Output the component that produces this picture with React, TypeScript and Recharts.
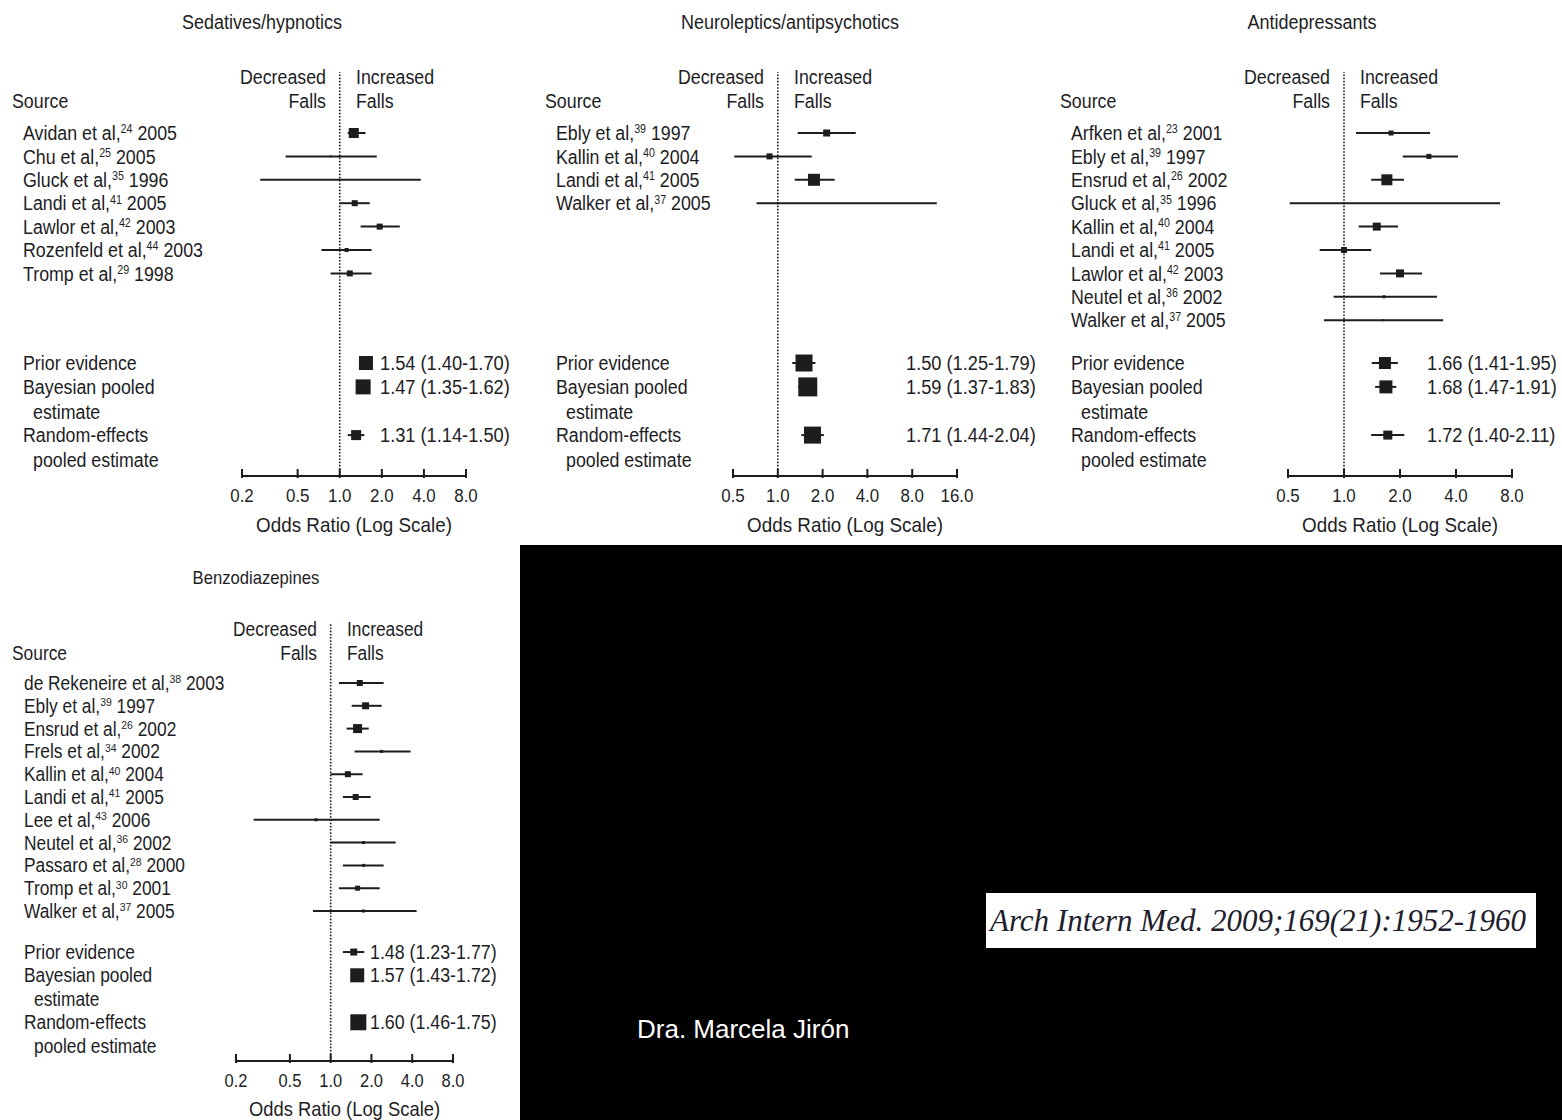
import React from 'react'
import { ScatterChart, Scatter, XAxis, YAxis, ErrorBar, ReferenceLine } from 'recharts'

const SANS = "'Liberation Sans', Arial, sans-serif"
const INK = '#1d1d1f'
// the figure set uses a condensed face; Liberation Sans is squeezed horizontally to match
const SX_WORD = 0.89

// Sedatives/hypnotics
const sedAuthors = ['Avidan et al,', 'Chu et al,', 'Gluck et al,', 'Landi et al,', 'Lawlor et al,', 'Rozenfeld et al,', 'Tromp et al,']
const sedRefs = ['24', '25', '35', '41', '42', '44', '29']
const sedYears = ['2005', '2005', '1996', '2005', '2003', '2003', '1998']
const sedOR = [1.26, 0.86, 1.0, 1.28, 1.93, 1.12, 1.18]
const sedLow = [1.14, 0.41, 0.27, 1.0, 1.41, 0.74, 0.86]
const sedHigh = [1.53, 1.84, 3.8, 1.64, 2.69, 1.69, 1.69]
const sedWeight = [10, 2, 1, 6, 6, 4, 6]
const sedPooledOR = [1.54, 1.47, 1.31]
const sedPooledLow = [1.4, 1.35, 1.14]
const sedPooledHigh = [1.7, 1.62, 1.5]
const sedPooledWeight = [14, 15, 10]
const sedTicks = [0.2, 0.5, 1, 2, 4, 8]

// Neuroleptics/antipsychotics
const neuAuthors = ['Ebly et al,', 'Kallin et al,', 'Landi et al,', 'Walker et al,']
const neuRefs = ['39', '40', '41', '37']
const neuYears = ['1997', '2004', '2005', '2005']
const neuOR = [2.13, 0.88, 1.75, 1.0]
const neuLow = [1.36, 0.51, 1.3, 0.72]
const neuHigh = [3.34, 1.69, 2.41, 11.7]
const neuWeight = [7, 6, 12, 2]
const neuPooledOR = [1.5, 1.59, 1.71]
const neuPooledLow = [1.25, 1.37, 1.44]
const neuPooledHigh = [1.79, 1.83, 2.04]
const neuPooledWeight = [17, 19, 17]
const neuTicks = [0.5, 1, 2, 4, 8, 16]

// Antidepressants
const antAuthors = ['Arfken et al,', 'Ebly et al,', 'Ensrud et al,', 'Gluck et al,', 'Kallin et al,', 'Landi et al,', 'Lawlor et al,', 'Neutel et al,', 'Walker et al,']
const antRefs = ['23', '39', '26', '35', '40', '41', '42', '36', '37']
const antYears = ['2001', '1997', '2002', '1996', '2004', '2005', '2003', '2002', '2005']
const antOR = [1.79, 2.86, 1.7, 1.0, 1.5, 1.0, 2.0, 1.64, 1.62]
const antLow = [1.16, 2.07, 1.4, 0.51, 1.2, 0.74, 1.56, 0.88, 0.78]
const antHigh = [2.9, 4.1, 2.1, 6.9, 1.95, 1.4, 2.63, 3.16, 3.41]
const antWeight = [5, 5, 11, 2, 8, 6, 8, 3, 2]
const antPooledOR = [1.66, 1.68, 1.72]
const antPooledLow = [1.41, 1.47, 1.4]
const antPooledHigh = [1.95, 1.91, 2.11]
const antPooledWeight = [12, 13, 9]
const antTicks = [0.5, 1, 2, 4, 8]

// Benzodiazepines
const bzdAuthors = ['de Rekeneire et al,', 'Ebly et al,', 'Ensrud et al,', 'Frels et al,', 'Kallin et al,', 'Landi et al,', 'Lee et al,', 'Neutel et al,', 'Passaro et al,', 'Tromp et al,', 'Walker et al,']
const bzdRefs = ['38', '39', '26', '34', '40', '41', '43', '36', '28', '30', '37']
const bzdYears = ['2003', '1997', '2002', '2002', '2004', '2005', '2006', '2002', '2000', '2001', '2005']
const bzdOR = [1.64, 1.81, 1.58, 2.38, 1.34, 1.53, 0.78, 1.75, 1.75, 1.58, 1.75]
const bzdLow = [1.15, 1.43, 1.31, 1.5, 1.0, 1.23, 0.27, 1.0, 1.23, 1.15, 0.74]
const bzdHigh = [2.46, 2.38, 1.91, 3.89, 1.72, 1.97, 2.3, 3.02, 2.46, 2.3, 4.31]
const bzdWeight = [6, 7, 9, 3, 6, 6, 3, 3, 3, 5, 3]
const bzdPooledOR = [1.48, 1.57, 1.6]
const bzdPooledLow = [1.23, 1.43, 1.46]
const bzdPooledHigh = [1.77, 1.72, 1.75]
const bzdPooledWeight = [7, 14, 16]
const bzdTicks = [0.2, 0.5, 1, 2, 4, 8]

const POOLED_LABELS = [['Prior evidence'], ['Bayesian pooled', 'estimate'], ['Random-effects', 'pooled estimate']]
// row offsets of the pooled rows, in study-row units
const POOLED_OFFSETS = [0, 1.02, 3.08]

interface Layout {
  left: number
  top: number
  width: number
  height: number
  plotLeft: number
  plotRight: number
  plotTop: number
  axisY: number
  row0: number
  step: number
  pooledAt: number
  labelX: number
  valueX: number
  sourceX: number
  titleX: number
  titleY: number
  headerY: number
  fontSize: number
  titleSize: number
  axisTitleLift: number
}

interface PanelProps {
  title: string
  layout: Layout
  domain: [number, number]
  ticks: number[]
  authors: string[]
  refs: string[]
  years: string[]
  or: number[]
  low: number[]
  high: number[]
  weight: number[]
  pooledOr: number[]
  pooledLow: number[]
  pooledHigh: number[]
  pooledWeight: number[]
}

// HTML text, squeezed horizontally around its anchor
function Txt({ x, y, align = 'left', size, sx = SX_WORD, children }: any) {
  const tx = align === 'left' ? '0' : align === 'right' ? '-100%' : '-50%'
  const origin = align === 'left' ? 'left center' : align === 'right' ? 'right center' : 'center center'
  return (
    <div
      style={{
        position: 'absolute',
        left: x,
        top: y,
        transform: `translate(${tx}, -50%) scaleX(${sx})`,
        transformOrigin: origin,
        fontSize: size,
        lineHeight: 1,
        whiteSpace: 'nowrap',
        fontFamily: SANS,
        color: INK,
      }}
    >
      {children}
    </div>
  )
}

// SVG text, squeezed horizontally around (x, y)
function SText({ x, y, size, sx = SX_WORD, anchor = 'start', children }: any) {
  return (
    <text
      transform={`translate(${x} ${y}) scale(${sx} 1)`}
      fontSize={size}
      textAnchor={anchor}
      fill={INK}
      fontFamily={SANS}
    >
      {children}
    </text>
  )
}

function AxisTitle(props: any) {
  const vb = props.viewBox || { x: 0, y: 0, width: 0, height: 0 }
  return (
    <SText x={vb.x + vb.width / 2} y={vb.y + vb.height - props.lift} size={props.size} sx={0.92} anchor="middle">
      Odds Ratio (Log Scale)
    </SText>
  )
}

const fmt = (v: number) => v.toFixed(2)

function ForestPanel(p: PanelProps) {
  const L = p.layout
  const fs = L.fontSize
  const [d0, d1] = p.domain

  const studyData = p.or.map((v, i) => ({
    x: v,
    y: i,
    err: [v - p.low[i], p.high[i] - v],
    w: p.weight[i],
    idx: i,
  }))
  const pooledData = p.pooledOr.map((v, i) => ({
    x: v,
    y: L.pooledAt + POOLED_OFFSETS[i],
    err: [v - p.pooledLow[i], p.pooledHigh[i] - v],
    w: p.pooledWeight[i],
    idx: i,
  }))

  const yDomain: [number, number] = [(L.plotTop - L.row0) / L.step, (L.axisY - L.row0) / L.step]
  const rowTicks = [...studyData.map((d) => d.y), ...pooledData.map((d) => d.y)]
  const labelX = L.labelX - L.left
  const valueX = L.valueX - L.left
  const baseShift = fs * 0.36

  // x position of OR = 1, used to place the direction headers
  const oneX = L.plotLeft + ((0 - Math.log(d0)) / (Math.log(d1) - Math.log(d0))) * (L.plotRight - L.plotLeft)

  const renderRowLabel = (props: any) => {
    const { y, payload } = props
    const v = payload.value
    const si = studyData.findIndex((d) => d.y === v)
    if (si >= 0) {
      return (
        <SText x={labelX} y={y + baseShift} size={fs}>
          {p.authors[si]}
          <tspan fontSize={fs * 0.6} dy={-fs * 0.34}>{p.refs[si]}</tspan>
          <tspan dy={fs * 0.34}>{' ' + p.years[si]}</tspan>
        </SText>
      )
    }
    const pi = pooledData.findIndex((d) => d.y === v)
    const lines = POOLED_LABELS[pi] || []
    return (
      <g>
        {lines.map((ln, k) => (
          <SText key={k} x={labelX + (k ? 10 : 0)} y={y + baseShift + k * L.step * 1.05} size={fs}>
            {ln}
          </SText>
        ))}
      </g>
    )
  }

  const renderAxisTick = (props: any) => {
    const { x, y, payload } = props
    return (
      <g>
        <line x1={x} x2={x} y1={y - 7} y2={y + 2} stroke={INK} strokeWidth={2} />
        <SText x={x} y={y + 26} size={fs - 1} anchor="middle">
          {Number(payload.value).toFixed(1)}
        </SText>
      </g>
    )
  }

  const renderStudy = (props: any) => {
    const { cx, cy } = props
    const d = props.payload ?? props
    const s = d.w
    return <rect x={cx - s / 2} y={cy - s / 2} width={s} height={s} fill={INK} />
  }

  const renderPooled = (props: any) => {
    const { cx, cy } = props
    const d = props.payload ?? props
    const s = d.w
    const i = d.idx
    return (
      <g>
        <rect x={cx - s / 2} y={cy - s / 2} width={s} height={s} fill={INK} />
        <SText x={valueX} y={cy + baseShift} size={fs + 0.5}>
          {`${fmt(p.pooledOr[i])} (${fmt(p.pooledLow[i])}-${fmt(p.pooledHigh[i])})`}
        </SText>
      </g>
    )
  }

  return (
    <>
      <div style={{ position: 'absolute', left: L.left, top: L.top, width: L.width, height: L.height }}>
        <ScatterChart
          width={L.width}
          height={L.height}
          margin={{ top: L.plotTop - L.top, right: L.left + L.width - L.plotRight, bottom: 0, left: 0 }}
        >
          <XAxis
            type="number"
            dataKey="x"
            scale="log"
            domain={p.domain}
            ticks={p.ticks}
            interval={0}
            tickSize={0}
            tickMargin={0}
            tickLine={false}
            axisLine={{ stroke: INK, strokeWidth: 2 }}
            tick={renderAxisTick}
            height={L.top + L.height - L.axisY}
            label={<AxisTitle lift={L.axisTitleLift} size={fs + 0.5} />}
          />
          <YAxis
            type="number"
            dataKey="y"
            domain={yDomain}
            reversed
            ticks={rowTicks}
            interval={0}
            tickSize={0}
            tickMargin={0}
            axisLine={false}
            tickLine={false}
            tick={renderRowLabel}
            width={L.plotLeft - L.left}
          />
          <ReferenceLine x={1} stroke={INK} strokeWidth={1.6} strokeDasharray="1.6 1.6" />
          <Scatter data={studyData} shape={renderStudy} isAnimationActive={false}>
            <ErrorBar dataKey="err" direction="x" width={0} stroke={INK} strokeWidth={2} />
          </Scatter>
          <Scatter data={pooledData} shape={renderPooled} isAnimationActive={false}>
            <ErrorBar dataKey="err" direction="x" width={0} stroke={INK} strokeWidth={2} />
          </Scatter>
        </ScatterChart>
      </div>
      <Txt x={L.titleX} y={L.titleY} align="center" size={L.titleSize} sx={0.9}>
        {p.title}
      </Txt>
      <Txt x={oneX - 14} y={L.headerY} align="right" size={fs}>Decreased</Txt>
      <Txt x={oneX - 14} y={L.headerY + 24} align="right" size={fs}>Falls</Txt>
      <Txt x={oneX + 16} y={L.headerY} size={fs}>Increased</Txt>
      <Txt x={oneX + 16} y={L.headerY + 24} size={fs}>Falls</Txt>
      <Txt x={L.sourceX} y={L.headerY + 24} size={fs}>Source</Txt>
    </>
  )
}

const topRows = {
  top: 0, height: 545, plotTop: 72, axisY: 476, row0: 133, step: 23.4, pooledAt: 9.83,
  titleY: 22, headerY: 77, fontSize: 20, titleSize: 20, axisTitleLift: 13,
}

const sedLayout: Layout = { ...topRows, left: 0, width: 520, plotLeft: 242, plotRight: 466, labelX: 23, valueX: 380, sourceX: 12, titleX: 262 }
const neuLayout: Layout = { ...topRows, left: 520, width: 520, plotLeft: 733, plotRight: 957, labelX: 556, valueX: 906, sourceX: 545, titleX: 790 }
const antLayout: Layout = { ...topRows, left: 1040, width: 522, plotLeft: 1288, plotRight: 1512, labelX: 1071, valueX: 1427, sourceX: 1060, titleX: 1312 }
const bzdLayout: Layout = {
  left: 0, top: 545, width: 520, height: 575, plotLeft: 236, plotRight: 453, plotTop: 623, axisY: 1061,
  row0: 683, step: 22.8, pooledAt: 11.8, labelX: 24, valueX: 370, sourceX: 12, titleX: 256, titleY: 578,
  headerY: 630, fontSize: 19.5, titleSize: 18.5, axisTitleLift: 4,
}

export default function App() {
  return (
    <div style={{ position: 'absolute', left: 0, top: 0, width: 1562, height: 1120, background: '#fff', overflow: 'hidden' }}>
      <ForestPanel
        title="Sedatives/hypnotics" layout={sedLayout} domain={[0.2, 8]} ticks={sedTicks}
        authors={sedAuthors} refs={sedRefs} years={sedYears} or={sedOR} low={sedLow} high={sedHigh} weight={sedWeight}
        pooledOr={sedPooledOR} pooledLow={sedPooledLow} pooledHigh={sedPooledHigh} pooledWeight={sedPooledWeight}
      />
      <ForestPanel
        title="Neuroleptics/antipsychotics" layout={neuLayout} domain={[0.5, 16]} ticks={neuTicks}
        authors={neuAuthors} refs={neuRefs} years={neuYears} or={neuOR} low={neuLow} high={neuHigh} weight={neuWeight}
        pooledOr={neuPooledOR} pooledLow={neuPooledLow} pooledHigh={neuPooledHigh} pooledWeight={neuPooledWeight}
      />
      <ForestPanel
        title="Antidepressants" layout={antLayout} domain={[0.5, 8]} ticks={antTicks}
        authors={antAuthors} refs={antRefs} years={antYears} or={antOR} low={antLow} high={antHigh} weight={antWeight}
        pooledOr={antPooledOR} pooledLow={antPooledLow} pooledHigh={antPooledHigh} pooledWeight={antPooledWeight}
      />
      <ForestPanel
        title="Benzodiazepines" layout={bzdLayout} domain={[0.2, 8]} ticks={bzdTicks}
        authors={bzdAuthors} refs={bzdRefs} years={bzdYears} or={bzdOR} low={bzdLow} high={bzdHigh} weight={bzdWeight}
        pooledOr={bzdPooledOR} pooledLow={bzdPooledLow} pooledHigh={bzdPooledHigh} pooledWeight={bzdPooledWeight}
      />

      <div style={{ position: 'absolute', left: 520, top: 545, width: 1042, height: 575, background: '#000' }} />
      <div
        style={{
          position: 'absolute', left: 986, top: 893, width: 550, height: 55, background: '#fff',
          display: 'flex', alignItems: 'center', boxSizing: 'border-box', paddingLeft: 4,
          fontFamily: "'Liberation Serif', 'DejaVu Serif', serif", fontStyle: 'italic', fontSize: 31,
          color: '#20202c', whiteSpace: 'nowrap',
        }}
      >
        Arch Intern Med. 2009;169(21):1952-1960
      </div>
      <div
        style={{
          position: 'absolute', left: 637, top: 1029, transform: 'translateY(-50%)', lineHeight: 1,
          fontFamily: "'Liberation Sans', Arial, sans-serif", fontSize: 26, color: '#fff', whiteSpace: 'nowrap',
        }}
      >
        Dra. Marcela Jirón
      </div>
    </div>
  )
}
